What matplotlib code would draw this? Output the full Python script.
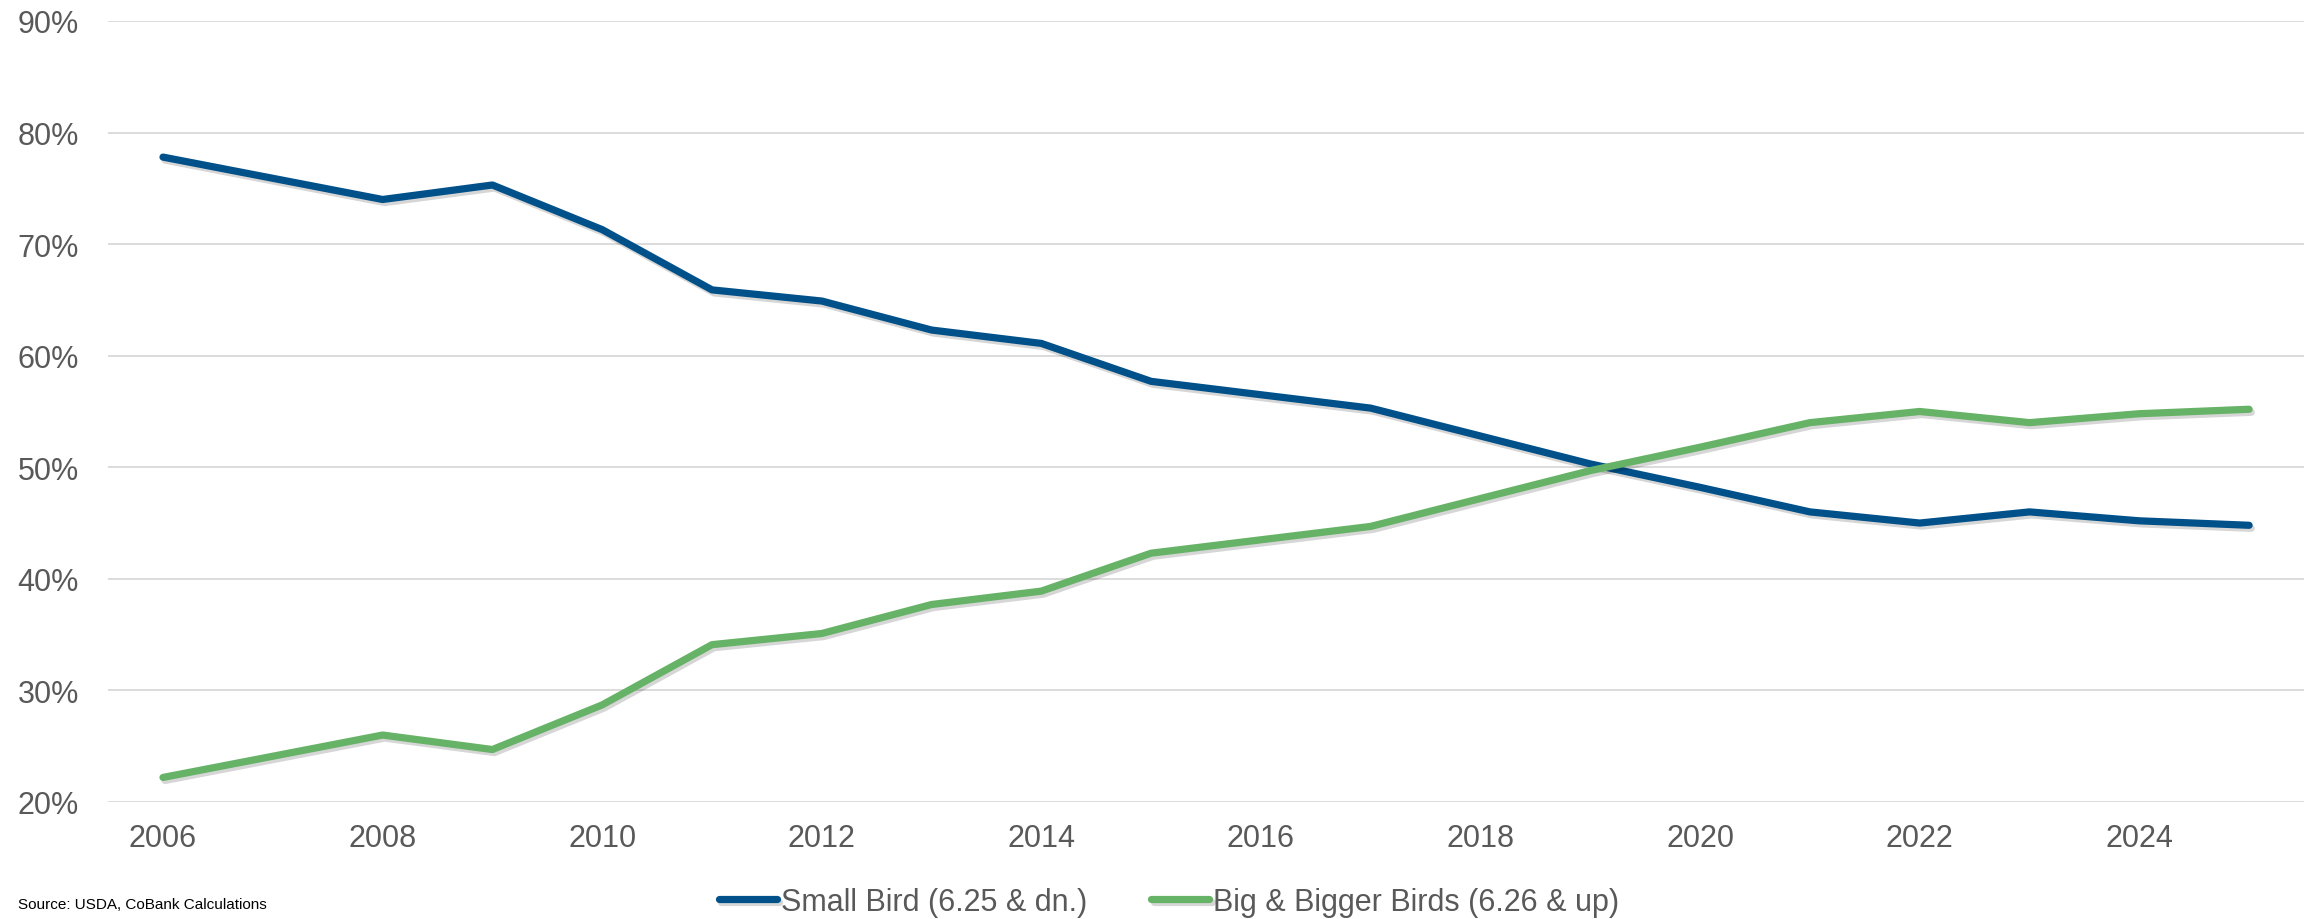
import matplotlib
matplotlib.use('Agg')
import matplotlib.pyplot as plt
import matplotlib.patheffects as pe
from matplotlib.ticker import FuncFormatter

years = list(range(2006, 2026))
small_bird = [77.8, 75.9, 74.0, 75.3, 71.3, 65.9, 64.9, 62.3, 61.1, 57.7,
              56.5, 55.3, 52.8, 50.3, 48.2, 46.0, 45.0, 46.0, 45.2, 44.8]
big_bird = [22.2, 24.1, 26.0, 24.7, 28.7, 34.1, 35.1, 37.7, 38.9, 42.3,
            43.5, 44.7, 47.2, 49.7, 51.8, 54.0, 55.0, 54.0, 54.8, 55.2]
labels = ['Small Bird (6.25 & dn.)', 'Big & Bigger Birds (6.26 & up)']
colors = ['#00508A', '#66B266']
source = 'Source: USDA, CoBank Calculations'

plt.rcParams['font.family'] = ['Liberation Sans', 'DejaVu Sans']
txt = '#595959'

fig = plt.figure(figsize=(23.2, 9.2), dpi=100)
ax = fig.add_axes([0.0466, 0.1272, 0.9465, 0.8489])

# soft drop shadow under the lines, like the Excel original
shadow = [pe.SimpleLineShadow(offset=(1.5, -2.2), alpha=0.16), pe.Normal()]
for vals, lab, c in zip([small_bird, big_bird], labels, colors):
    ax.plot(years, vals, color=c, lw=5.2, label=lab,
            solid_capstyle='round', solid_joinstyle='round', path_effects=shadow)

ax.set_xlim(2005.5, 2025.5)
ax.set_ylim(20, 90)
ax.set_yticks(range(20, 91, 10))
ax.set_xticks(range(2006, 2025, 2))
ax.yaxis.set_major_formatter(FuncFormatter(lambda v, p: f'{v:.0f}%'))
ax.grid(axis='y', color='#D9D9D9', lw=1.3)
ax.set_axisbelow(True)
for s in ax.spines.values():
    s.set_visible(False)
ax.tick_params(axis='both', length=0, labelsize=22, labelcolor=txt)
ax.tick_params(axis='y', pad=21)
ax.tick_params(axis='x', pad=15)

leg = fig.legend(loc='center', bbox_to_anchor=(0.504, 1 - 903 / 920), ncol=2,
                 frameon=False, fontsize=22, handlelength=1.9, handletextpad=0.12,
                 columnspacing=2.1, labelcolor=txt)

fig.text(18 / 2320, 1 - 905 / 920, source, fontsize=11, color='black', va='center', ha='left')

fig.savefig('out.png', dpi=100)
